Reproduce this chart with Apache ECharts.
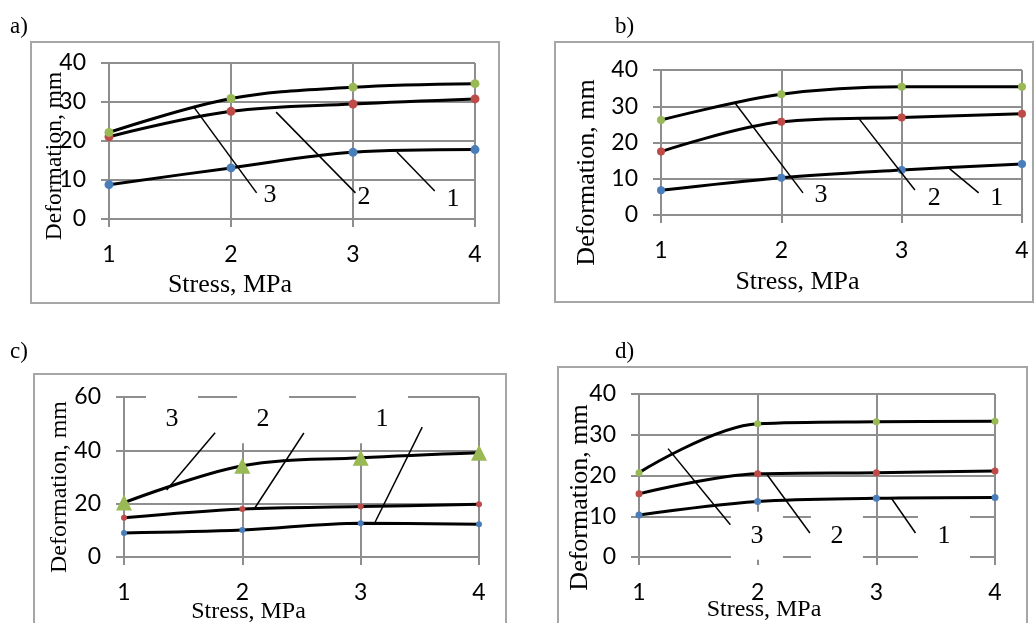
<!DOCTYPE html>
<html>
<head>
<meta charset="utf-8">
<script src="https://cdn.jsdelivr.net/npm/echarts@6/dist/echarts.min.js"></script>
<style>
	html, body { margin: 0; padding: 0; background: #fff; }
	#chart { width: 1035px; height: 623px; }
</style>
</head>
<body>
<div id="chart"></div>
<script>
// stress values on the x axis (MPa)
var stress = [1, 2, 3, 4];

// deformation, mm : panel a)
var aCurve1 = [8.8, 13.1, 17.1, 17.8];
var aCurve2 = [21.1, 27.6, 29.5, 30.8];
var aCurve3 = [22.2, 30.9, 33.8, 34.7];
// panel b)
var bCurve1 = [6.8, 10.3, 12.4, 14.1];
var bCurve2 = [17.5, 25.7, 26.9, 27.9];
var bCurve3 = [26.2, 33.3, 35.4, 35.4];
// panel c)
var cCurve1 = [9.0, 10.1, 12.7, 12.3];
var cCurve2 = [14.7, 18.0, 18.9, 19.8];
var cCurve3 = [20.4, 34.2, 37.2, 39.1];
// panel d)
var dCurve1 = [10.3, 13.6, 14.4, 14.6];
var dCurve2 = [15.5, 20.4, 20.7, 21.1];
var dCurve3 = [20.7, 32.7, 33.2, 33.3];

// callout leaders [x1, y1, x2, y2] and tags [text, x, y], in axis units
var aLeaders = [[1.70, 28.5, 2.21, 6.7], [2.37, 27.4, 3.02, 6.7], [3.36, 17.2, 3.67, 7.2]];
var aTags = [['3', 2.32, 6.2], ['2', 3.09, 5.6], ['1', 3.82, 5.1]];
var bLeaders = [[1.615, 30.9, 2.18, 6.1], [2.64, 26.8, 3.11, 6.9], [3.39, 13.0, 3.64, 6.1]];
var bTags = [['3', 2.33, 5.5], ['2', 3.27, 4.7], ['1', 3.79, 4.7]];
var cLeaders = [[1.36, 25.1, 1.77, 46.6], [2.10, 18.0, 2.52, 46.5], [3.11, 12.0, 3.52, 48.7]];
var cTags = [['3', 1.406, 51.7], ['2', 2.175, 51.7], ['1', 3.18, 51.7]];
var dLeaders = [[1.245, 26.6, 1.77, 7.9], [2.08, 20.2, 2.44, 5.9], [3.13, 14.3, 3.33, 5.9]];
var dTags = [['3', 1.994, 5.2], ['2', 2.668, 5.2], ['1', 3.57, 5.2]];

var BLUE = '#4a7ebb', RED = '#be4b48', GREEN = '#98b954';
var GRID_GRAY = '#8e8e8e';
var SERIF = '"Liberation Serif", "Times New Roman", serif';

var chart = echarts.init(document.getElementById('chart'));

function pairs(values) {
	return values.map(function(v, i) { return [stress[i], v]; });
}

function curve(gi, values, color, size, symbol) {
	return {
		type : 'line',
		xAxisIndex : gi,
		yAxisIndex : gi,
		data : pairs(values),
		smooth : 0.35,
		symbol : symbol || 'circle',
		symbolSize : size,
		itemStyle : { color : color },
		lineStyle : { color : '#000', width : 3 },
		z : 3
	};
}

// leader lines and tag numbers, hung on an empty line series of the panel
function callouts(gi, leaders, tags, boxed) {
	return {
		type : 'line',
		xAxisIndex : gi,
		yAxisIndex : gi,
		data : [],
		silent : true,
		z : 4,
		markLine : {
			silent : true,
			symbol : 'none',
			label : { show : false },
			lineStyle : { color : '#000', width : 1.5, type : 'solid' },
			data : leaders.map(function(l) {
				return [{ coord : [l[0], l[1]] }, { coord : [l[2], l[3]] }];
			})
		},
		markPoint : {
			silent : true,
			symbol : 'rect',
			symbolSize : boxed ? [52, 48] : [1, 1],
			itemStyle : { color : boxed ? '#fff' : 'rgba(0,0,0,0)' },
			label : {
				show : true,
				position : 'inside',
				color : '#000',
				fontFamily : SERIF,
				fontSize : 26
			},
			data : tags.map(function(t) {
				return { coord : [t[1], t[2]], label : { formatter : t[0] } };
			})
		}
	};
}

function xAxisFor(gi, nameGap, shiftLeft, nameSize) {
	return {
		gridIndex : gi,
		type : 'value',
		min : 1,
		max : 4,
		interval : 1,
		axisLine : { show : true, lineStyle : { color : GRID_GRAY, width : 2 } },
		axisTick : { show : true, length : 8, lineStyle : { color : GRID_GRAY, width : 2 } },
		splitLine : { show : true, lineStyle : { color : GRID_GRAY, width : 2 } },
		axisLabel : { margin : 24, color : '#000', fontFamily : 'Lato', fontSize : 23 },
		name : 'Stress, MPa',
		nameLocation : 'middle',
		nameGap : nameGap,
		nameMoveOverlap : false,
		nameTextStyle : {
			color : '#000', fontFamily : SERIF, fontSize : nameSize,
			padding : [0, shiftLeft * 2, 0, 0]
		}
	};
}

function yAxisFor(gi, max, interval, nameGap, shiftDown, nameSize) {
	return {
		gridIndex : gi,
		type : 'value',
		min : 0,
		max : max,
		interval : interval,
		axisLine : { show : true, lineStyle : { color : GRID_GRAY, width : 2 } },
		axisTick : { show : true, length : 8, lineStyle : { color : GRID_GRAY, width : 2 } },
		splitLine : { show : true, lineStyle : { color : GRID_GRAY, width : 2 } },
		axisLabel : { margin : 23, color : '#000', fontFamily : 'Lato', fontSize : 23 },
		name : 'Deformation, mm',
		nameLocation : 'middle',
		nameGap : nameGap,
		nameMoveOverlap : false,
		nameTextStyle : {
			color : '#000', fontFamily : SERIF, fontSize : nameSize,
			padding : [0, shiftDown * 2, 0, 0]
		}
	};
}

function frame(x, y, w, h) {
	return {
		type : 'rect',
		silent : true,
		z : -1,
		shape : { x : x, y : y, width : w, height : h },
		style : { fill : 'none', stroke : '#a6a6a6', lineWidth : 2 }
	};
}

function panelTag(text, x, y) {
	return {
		type : 'text',
		silent : true,
		left : x,
		top : y,
		style : { text : text, fill : '#000', font : '23px ' + SERIF }
	};
}

function gridAt(left, top, width, height) {
	return { left : left, top : top, width : width, height : height, outerBoundsMode : 'none' };
}

var option = {
	animation : false,
	backgroundColor : '#fff',
	grid : [
		gridAt(109, 63, 366, 156),
		gridAt(661, 70, 361, 145),
		gridAt(124, 397, 355, 160),
		gridAt(639, 394, 356, 163)
	],
	xAxis : [
		xAxisFor(0, 53, 62, 26),
		xAxisFor(1, 54, 44, 26),
		xAxisFor(2, 43, 53, 24),
		xAxisFor(3, 41, 53, 24)
	],
	yAxis : [
		yAxisFor(0, 40, 10, 42, 15, 23.5),
		yAxisFor(1, 40, 10, 61, 30, 26),
		yAxisFor(2, 60, 20, 52, 10, 24),
		yAxisFor(3, 40, 10, 46, 22, 26)
	],
	graphic : [
		frame(31, 42, 468, 261),
		frame(555, 42, 478, 260),
		frame(34, 374, 472, 260),
		frame(558, 367, 469, 267),
		panelTag('a)', 10, 15),
		panelTag('b)', 615, 15),
		panelTag('c)', 10, 340),
		panelTag('d)', 615, 340)
	],
	series : [
		curve(0, aCurve1, BLUE, 9),
		curve(0, aCurve2, RED, 9),
		curve(0, aCurve3, GREEN, 9),
		callouts(0, aLeaders, aTags, false),

		curve(1, bCurve1, BLUE, 8),
		curve(1, bCurve2, RED, 8),
		curve(1, bCurve3, GREEN, 8),
		callouts(1, bLeaders, bTags, false),

		curve(2, cCurve1, BLUE, 6),
		curve(2, cCurve2, RED, 6),
		curve(2, cCurve3, GREEN, 16, 'triangle'),
		callouts(2, cLeaders, cTags, true),

		curve(3, dCurve1, BLUE, 7),
		curve(3, dCurve2, RED, 7),
		curve(3, dCurve3, GREEN, 7),
		callouts(3, dLeaders, dTags, true)
	]
};

chart.setOption(option);
</script>
</body>
</html>
